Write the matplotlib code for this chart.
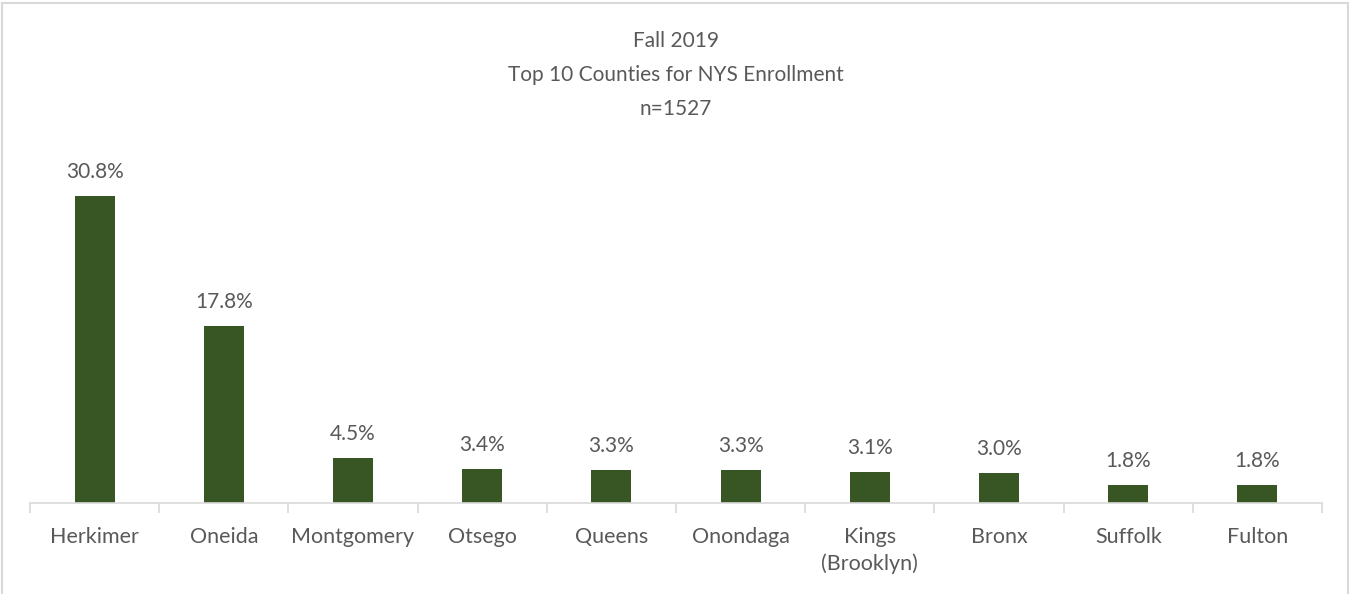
import matplotlib
matplotlib.use("Agg")
import matplotlib.pyplot as plt
from matplotlib.patches import Rectangle

# Top 10 NYS counties, Fall 2019 enrollment share (%)
counties = ["Herkimer", "Oneida", "Montgomery", "Otsego", "Queens",
            "Onondaga", "Kings\n(Brooklyn)", "Bronx", "Suffolk", "Fulton"]
shares = [30.8, 17.8, 4.5, 3.4, 3.3, 3.3, 3.1, 3.0, 1.8, 1.8]
title_lines = ["Fall 2019", "Top 10 Counties for NYS Enrollment", "n=1527"]

BAR_COLOR = "#375623"
TEXT_COLOR = "#595959"
GRID_GRAY = "#d9d9d9"

plt.rcParams["font.family"] = ["Lato", "DejaVu Sans"]

fig = plt.figure(figsize=(13.5, 5.94), dpi=100)
ax = fig.add_axes([0.0222, 0.1532, 0.9571, 0.5875])

x = range(len(counties))
bars = ax.bar(x, shares, width=0.31, color=BAR_COLOR)

for rect, val in zip(bars, shares):
    ax.annotate(f"{val:.1f}%", (rect.get_x() + rect.get_width() / 2, val),
                xytext=(0, 10), textcoords="offset points",
                ha="center", va="bottom", fontsize=15, color=TEXT_COLOR)

ax.set_xlim(-0.5, len(counties) - 0.5)
ax.set_ylim(0, 35)
ax.set_yticks([])
for side in ["top", "right", "left"]:
    ax.spines[side].set_visible(False)
ax.spines["bottom"].set_color(GRID_GRAY)
ax.spines["bottom"].set_linewidth(1.2)

# category labels, with tick marks on the category boundaries
ax.set_xticks(list(x))
ax.set_xticklabels(counties, fontsize=15.5, color=TEXT_COLOR, linespacing=1.4, va="top")
ax.tick_params(axis="x", which="major", length=0, pad=17)
ax.set_xticks([i - 0.5 for i in range(len(counties) + 1)], minor=True)
ax.tick_params(axis="x", which="minor", length=7, width=1.2, color=GRID_GRAY)

fig.text(0.5008, 0.948, "\n".join(title_lines), ha="center", va="top",
         fontsize=15, color=TEXT_COLOR, linespacing=1.87)

# light chart-area border
fig.add_artist(Rectangle((0.0015, -0.01), 0.997, 1.005, transform=fig.transFigure,
                         fill=False, edgecolor=GRID_GRAY, linewidth=1.5))

fig.savefig("out.png", dpi=100, facecolor="white")
